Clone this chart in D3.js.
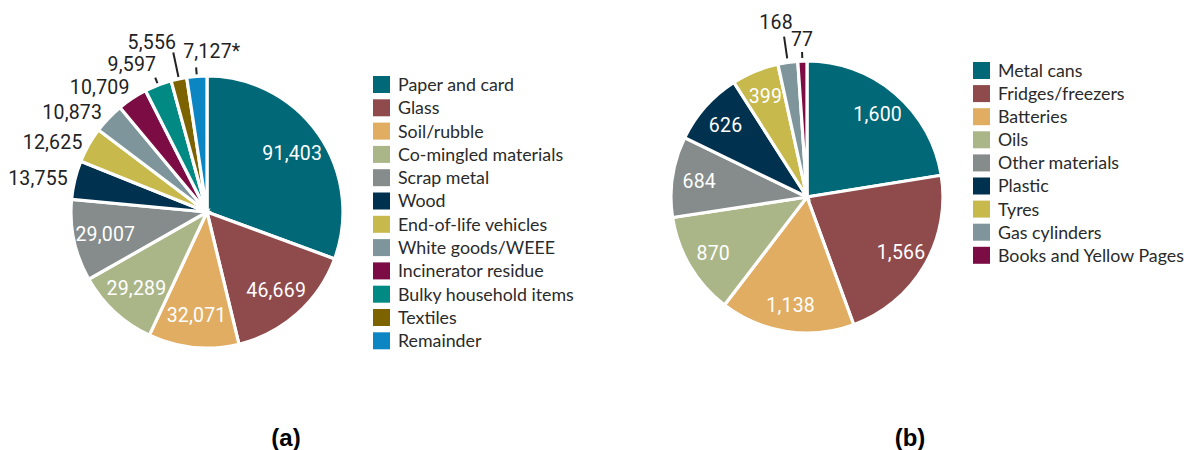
<!DOCTYPE html>
<html>
<head>
<meta charset="utf-8">
<script src="https://cdn.jsdelivr.net/npm/d3@7"></script>
<style>
    body { margin: 0; background: #fff; }
    .lbl { font-family: Roboto, 'Liberation Sans', sans-serif; font-size: 19.5px; letter-spacing: 0.2px; }
    .leg { font-family: Lato, 'Open Sans', sans-serif; font-size: 17.8px; fill: #2a2a2a; }
    .title { font-family: 'Liberation Sans', Arial, sans-serif; font-size: 24px; font-weight: bold; }
</style>
</head>
<body>
<div id="chart"></div>
<script>
// chart (a)
const catsA = ['Paper and card', 'Glass', 'Soil/rubble', 'Co-mingled materials', 'Scrap metal', 'Wood',
    'End-of-life vehicles', 'White goods/WEEE', 'Incinerator residue', 'Bulky household items', 'Textiles', 'Remainder'];
const valsA = [91403, 46669, 32071, 29289, 29007, 13755, 12625, 10873, 10709, 9597, 5556, 7127];
const notesA = ['', '', '', '', '', '', '', '', '', '', '', '*'];
const colorsA = ['#006877', '#8f4a4c', '#e0ad63', '#abb688', '#858c8b', '#00324f',
    '#c7b94c', '#7e969b', '#7c0d44', '#008a83', '#7d6200', '#0b86c3'];

// chart (b)
const catsB = ['Metal cans', 'Fridges/freezers', 'Batteries', 'Oils', 'Other materials', 'Plastic',
    'Tyres', 'Gas cylinders', 'Books and Yellow Pages'];
const valsB = [1600, 1566, 1138, 870, 684, 626, 399, 168, 77];
const notesB = ['', '', '', '', '', '', '', '', ''];
const colorsB = ['#006877', '#8f4a4c', '#e0ad63', '#abb688', '#858c8b', '#00324f', '#c7b94c', '#7e969b', '#7c0d44'];

const titles = ['(a)', '(b)'];

const width = 1187,
    height = 450,
    R = 136;

const svg = d3.select('#chart').append('svg').attr('width', width).attr('height', height);

const fmt = d3.format(',');

// how the outer labels sit (index -> placement); everything else goes inside
const outerA = {
    5: { r: 143, anchor: 'end' },
    6: { r: 143, anchor: 'end' },
    7: { r: 145, anchor: 'end' },
    8: { r: 150, anchor: 'end', dx: 5 },
    9: { tick: [138, 144], anchor: 'end', dx: 1, dy: -14 },
    10: { tick: [138, 163], anchor: 'end', dx: 3, dy: -11 },
    11: { tick: [138, 145], anchor: 'start', dx: -13, dy: -16 },
};
const outerB = {
    7: { tick: [140, 162], anchor: 'middle', dx: -8, dy: -15 },
    8: { tick: [139, 145], anchor: 'middle', dx: 0, dy: -13.5 },
};

function drawPie(cx, cy, cats, vals, notes, colors, inR, outer, legX, legY, legStep, title, titleX) {
    const g = svg.append('g').attr('transform', `translate(${cx},${cy})`);
    const pie = d3.pie().sort(null).value((d) => d);
    const arcs = pie(vals);
    const arc = d3.arc().innerRadius(0).outerRadius(R);

    g.selectAll('path')
        .data(arcs)
        .enter()
        .append('path')
        .attr('d', arc)
        .attr('fill', (d, i) => colors[i])
        .attr('stroke', '#fff')
        .attr('stroke-width', 3.2);

    const polar = (a, r) => [r * Math.sin(a), -r * Math.cos(a)];
    const mid = (d) => (d.startAngle + d.endAngle) / 2;

    arcs.forEach((d, i) => {
        const txt = fmt(vals[i]) + notes[i];
        const o = outer[i];
        if (!o) {
            const p = d3.arc().innerRadius(inR).outerRadius(inR).centroid(d);
            g.append('text')
                .attr('class', 'lbl')
                .attr('x', p[0])
                .attr('y', p[1])
                .attr('dy', '0.36em')
                .attr('text-anchor', 'middle')
                .attr('fill', '#fff')
                .text(txt);
            return;
        }
        let p;
        if (o.tick) {
            const p0 = polar(mid(d), o.tick[0]);
            p = polar(mid(d), o.tick[1]);
            g.append('line')
                .attr('x1', p0[0])
                .attr('y1', p0[1])
                .attr('x2', p[0])
                .attr('y2', p[1])
                .attr('stroke', '#222')
                .attr('stroke-width', 2);
        } else {
            p = polar(mid(d), o.r);
        }
        g.append('text')
            .attr('class', 'lbl')
            .attr('x', p[0] + (o.dx || 0))
            .attr('y', p[1] + (o.dy || 0))
            .attr('dy', '0.36em')
            .attr('text-anchor', o.anchor)
            .attr('fill', '#222')
            .text(txt);
    });

    const rows = d3
        .scaleBand()
        .domain(cats)
        .range([legY, legY + cats.length * legStep]);

    const leg = svg.append('g');
    leg.selectAll('rect')
        .data(cats)
        .enter()
        .append('rect')
        .attr('x', legX)
        .attr('y', (d) => rows(d))
        .attr('width', 17)
        .attr('height', 17)
        .attr('fill', (d, i) => colors[i]);
    leg.selectAll('text')
        .data(cats)
        .enter()
        .append('text')
        .attr('class', 'leg')
        .attr('x', legX + 25)
        .attr('y', (d) => rows(d) + 8.5)
        .attr('dy', '0.36em')
        .text((d) => d);

    svg.append('text')
        .attr('class', 'title')
        .attr('x', titleX)
        .attr('y', 446)
        .attr('text-anchor', 'middle')
        .text(title);
}

drawPie(207, 212, catsA, valsA, notesA, colorsA, 104, outerA, 373, 76, 23.3, titles[0], 286);
drawPie(807, 197, catsB, valsB, notesB, colorsB, 109, outerB, 973, 62, 23.1, titles[1], 910);
</script>
</body>
</html>
